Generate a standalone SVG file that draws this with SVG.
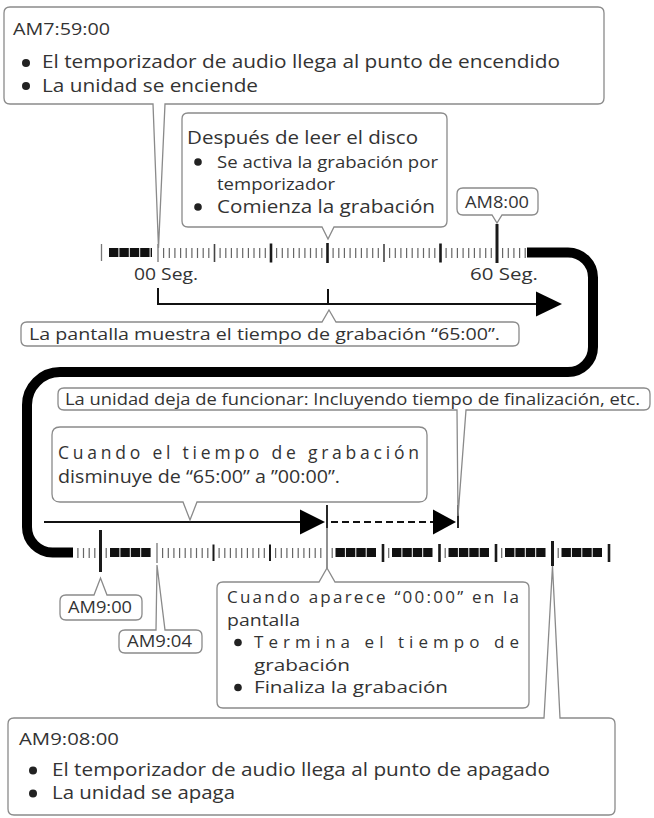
<svg xmlns="http://www.w3.org/2000/svg" width="654" height="818" viewBox="0 0 654 818">
<style>
.box{fill:#fff;stroke:#8a8a8a;stroke-width:1.3}
.t{font-family:"Open Sans","Noto Sans","Liberation Sans",sans-serif;fill:#333}
.minor{stroke:#666;stroke-width:1.2;fill:none}
.major{stroke:#1a1a1a;stroke-width:2.6;fill:none}
.thin{stroke:#777;stroke-width:1.3;fill:none}
.blocks{stroke:#111;stroke-width:9;stroke-dasharray:9.4 1;fill:none}
.line{stroke:#111;stroke-width:2;fill:none}
.dot{fill:#222}
</style>
<rect width="654" height="818" fill="#fff"/>

<g id="connectors">
  <path d="M527,252.5 H568 A25,25 0 0 1 593,277.5 V347 A25,25 0 0 1 568,372 H60 A33,33 0 0 0 27,405 V527 A25.5,25.5 0 0 0 52.5,552.5 H73" fill="none" stroke="#000" stroke-width="10"/>
  <g id="timeline1">
    <path class="thin" d="M101.5,244 V261 M158,244 V262"/>
    <path class="blocks" d="M109,252.5 H152"/>
    <path class="minor" d="M163.6,248V258M169.3,248V258M174.9,248V258M180.6,248V258M186.2,248V258M191.9,248V258M197.5,248V258M203.2,248V258M208.8,248V258
M220.1,248V258M225.8,248V258M231.4,248V258M237.1,248V258M242.7,248V258M248.4,248V258M254,248V258M259.7,248V258M265.3,248V258
M276.6,248V258M282.3,248V258M287.9,248V258M293.6,248V258M299.2,248V258M304.9,248V258M310.5,248V258M316.2,248V258M321.8,248V258
M333.1,248V258M338.8,248V258M344.4,248V258M350.1,248V258M355.7,248V258M361.4,248V258M367,248V258M372.7,248V258M378.3,248V258
M389.6,248V258M395.3,248V258M400.9,248V258M406.6,248V258M412.2,248V258M417.9,248V258M423.5,248V258M429.2,248V258M434.8,248V258
M446.1,248V258M451.8,248V258M457.4,248V258M463.1,248V258M468.7,248V258M474.4,248V258M480,248V258M485.7,248V258M491.3,248V258
M502.6,248V258M508.3,248V258M513.9,248V258M519.6,248V258M525.2,248V258"/>
    <path class="thin" d="M214.5,244 V262 M384,244 V262" style="stroke:#444;stroke-width:1.6"/>
    <path class="major" d="M271,243.5 V262.5 M327.5,243 V263 M440.5,243.5 V262.5"/>
    <path class="major" d="M497,224 V263" style="stroke-width:3"/>
  </g>
  <path class="line" d="M158,288 V304 H538 M328,289 V304"/>
  <polygon points="536,291.5 562,304 536,316.5" fill="#000"/>
  <path class="line" d="M44,522 H302"/>
  <polygon points="300,509.5 325,522 300,534.5" fill="#000"/>
  <path class="line" d="M331,522 H435" style="stroke-dasharray:7 4"/>
  <polygon points="433,509.5 456,522 433,534.5" fill="#000"/>
  <path class="line" d="M327,505 V528" style="stroke-width:1.8"/>
  <path class="thin" d="M327,528 V570" style="stroke:#555"/>
  <path class="line" d="M458,505 V528" style="stroke-width:1.8"/>
  <g id="timeline2">
    <path class="minor" d="M77.9,548V558M83.5,548V558M89.2,548V558M94.8,548V558M106.2,548V558
M162.6,548V558M168.3,548V558M173.9,548V558M179.6,548V558M185.2,548V558M190.9,548V558M196.5,548V558M202.2,548V558M207.8,548V558
M219.1,548V558M224.8,548V558M230.4,548V558M236.1,548V558M241.7,548V558M247.4,548V558M253,548V558M258.7,548V558M264.3,548V558
M275.6,548V558M281.3,548V558M286.9,548V558M292.6,548V558M298.2,548V558M303.9,548V558M309.5,548V558M315.2,548V558M320.8,548V558
M332.2,548V558M388.7,548V558M445.2,548V558M501.7,548V558M558.2,548V558"/>
    <path class="blocks" d="M110,552.5 H151 M335.5,552.5 H376 M392,552.5 H432.5 M448.5,552.5 H489 M505,552.5 H545.5 M561.5,552.5 H602"/>
    <path class="major" d="M100.5,530 V572" style="stroke-width:3"/>
    <path class="thin" d="M157,543 V563"/>
    <path class="major" d="M213.5,544.5 V561 M270,544.5 V561" style="stroke-width:2"/>
    <path class="major" d="M383,544 V562 M439.5,544 V562 M496,544 V562 M609,544 V562"/>
    <path class="major" d="M552.5,541 V566" style="stroke-width:3"/>
  </g>
</g>

<g id="n-am75900">
  <path class="box" d="M10,7 H598 Q604,7 604,13 V98 Q604,104 598,104 H165 L158.5,248 L153,104 H10 Q4,104 4,98 V13 Q4,7 10,7 Z"/>
  <text class="t" x="13" y="35" font-size="16.5" textLength="97" lengthAdjust="spacingAndGlyphs">AM7:59:00</text>
  <circle class="dot" cx="26" cy="63" r="4"/>
  <text class="t" x="42" y="68" font-size="18.5" textLength="518" lengthAdjust="spacingAndGlyphs">El temporizador de audio llega al punto de encendido</text>
  <circle class="dot" cx="26" cy="86" r="4"/>
  <text class="t" x="42" y="92" font-size="18.5" textLength="216" lengthAdjust="spacingAndGlyphs">La unidad se enciende</text>
</g>

<g id="n-despues">
  <path class="box" d="M188,113 H441 Q447,113 447,119 V221 Q447,227 441,227 H334 L328,239 L322,227 H188 Q182,227 182,221 V119 Q182,113 188,113 Z"/>
  <text class="t" x="187" y="144" font-size="17.5" textLength="231" lengthAdjust="spacingAndGlyphs">Después de leer el disco</text>
  <circle class="dot" cx="198" cy="162" r="3.8"/>
  <text class="t" x="217" y="168" font-size="16.5" textLength="221" lengthAdjust="spacingAndGlyphs">Se activa la grabación por</text>
  <text class="t" x="217" y="190" font-size="16.5" textLength="118" lengthAdjust="spacingAndGlyphs">temporizador</text>
  <circle class="dot" cx="198" cy="207" r="3.8"/>
  <text class="t" x="217" y="213" font-size="17.5" textLength="218" lengthAdjust="spacingAndGlyphs">Comienza la grabación</text>
</g>

<g id="n-am800">
  <path class="box" d="M463,188 H532 Q538,188 538,194 V209 Q538,215 532,215 H502 L497,223 L492,215 H463 Q457,215 457,209 V194 Q457,188 463,188 Z"/>
  <text class="t" x="465" y="207.5" font-size="15.5" font-weight="500" textLength="64" lengthAdjust="spacingAndGlyphs">AM8:00</text>
</g>

<g id="n-seg">
  <text class="t" x="134" y="280" font-size="16.5" textLength="64" lengthAdjust="spacingAndGlyphs">00 Seg.</text>
  <text class="t" x="470" y="280" font-size="16.5" textLength="68" lengthAdjust="spacingAndGlyphs">60 Seg.</text>
</g>

<g id="n-pantalla">
  <path class="box" d="M27,322 H322 L329,310 L336,322 H513 Q519,322 519,328 V340 Q519,346 513,346 H27 Q21,346 21,340 V328 Q21,322 27,322 Z"/>
  <text class="t" x="29" y="339.5" font-size="16.5" textLength="471" lengthAdjust="spacingAndGlyphs">La pantalla muestra el tiempo de grabación “65:00”.</text>
</g>

<g id="n-deja">
  <path class="box" d="M64,388 H644 Q650,388 650,394 V404 Q650,410 644,410 H466 L458,516 L457,410 H64 Q58,410 58,404 V394 Q58,388 64,388 Z"/>
  <text class="t" x="65" y="405" font-size="15.5" textLength="575" lengthAdjust="spacingAndGlyphs">La unidad deja de funcionar: Incluyendo tiempo de finalización, etc.</text>
</g>

<g id="n-cuando1">
  <path class="box" d="M60,427 H419 Q427,427 427,435 V494 Q427,502 419,502 H197 L190,520 L183,502 H60 Q52,502 52,494 V435 Q52,427 60,427 Z"/>
  <text class="t" x="58" y="459" font-size="17.5" textLength="361" lengthAdjust="spacing">Cuando el tiempo de grabación</text>
  <text class="t" x="58" y="482.5" font-size="17.5" textLength="282" lengthAdjust="spacingAndGlyphs">disminuye de “65:00” a ”00:00”.</text>
</g>

<g id="n-am900">
  <path class="box" d="M66,595 H94 L100.5,578 L107,595 H136 Q142,595 142,601 V614 Q142,620 136,620 H66 Q60,620 60,614 V601 Q60,595 66,595 Z"/>
  <text class="t" x="68" y="613" font-size="15.5" textLength="64" lengthAdjust="spacingAndGlyphs">AM9:00</text>
</g>

<g id="n-am904">
  <path class="box" d="M125,630 H156 L157,565 L165,630 H196 Q202,630 202,636 V647 Q202,653 196,653 H125 Q119,653 119,647 V636 Q119,630 125,630 Z"/>
  <text class="t" x="127" y="647" font-size="15.5" textLength="65" lengthAdjust="spacingAndGlyphs">AM9:04</text>
</g>

<g id="n-cuando2">
  <path class="box" d="M223,582 H319 L327,568 L335,582 H523 Q529,582 529,588 V702 Q529,708 523,708 H223 Q217,708 217,702 V588 Q217,582 223,582 Z"/>
  <text class="t" x="227" y="603" font-size="17" textLength="292" lengthAdjust="spacing">Cuando aparece “00:00” en la</text>
  <text class="t" x="227" y="625.5" font-size="17" textLength="73" lengthAdjust="spacingAndGlyphs">pantalla</text>
  <circle class="dot" cx="238" cy="642.5" r="3.8"/>
  <text class="t" x="254" y="648" font-size="17" textLength="265" lengthAdjust="spacing">Termina el tiempo de</text>
  <text class="t" x="254" y="670.5" font-size="17" textLength="96" lengthAdjust="spacingAndGlyphs">grabación</text>
  <circle class="dot" cx="238" cy="687.5" r="3.8"/>
  <text class="t" x="254" y="693" font-size="17" textLength="194" lengthAdjust="spacingAndGlyphs">Finaliza la grabación</text>
</g>

<g id="n-am90800">
  <path class="box" d="M14,718 H544 L552.5,566 L560,718 H609 Q615,718 615,724 V809 Q615,815 609,815 H14 Q8,815 8,809 V724 Q8,718 14,718 Z"/>
  <text class="t" x="19" y="745" font-size="16.5" textLength="100" lengthAdjust="spacingAndGlyphs">AM9:08:00</text>
  <circle class="dot" cx="33" cy="770.5" r="4"/>
  <text class="t" x="52" y="776" font-size="17.5" textLength="498" lengthAdjust="spacingAndGlyphs">El temporizador de audio llega al punto de apagado</text>
  <circle class="dot" cx="33" cy="793.5" r="4"/>
  <text class="t" x="52" y="799" font-size="17.5" textLength="183" lengthAdjust="spacingAndGlyphs">La unidad se apaga</text>
</g>
</svg>
